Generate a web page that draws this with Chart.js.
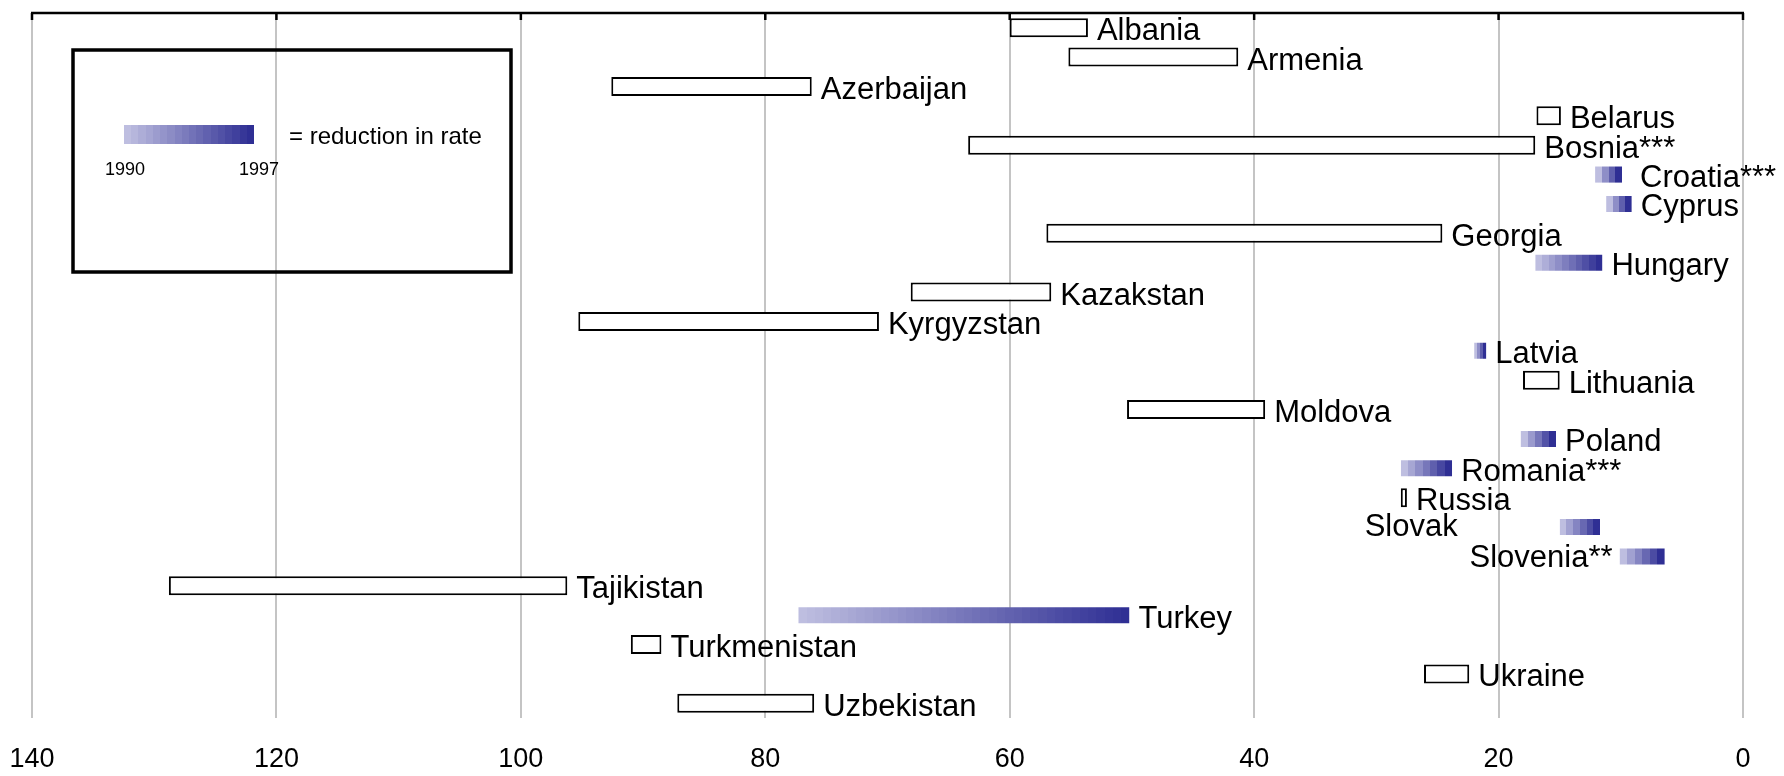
<!DOCTYPE html>
<html>
<head>
<meta charset="utf-8">
<script src="https://cdn.jsdelivr.net/npm/chart.js@4/dist/chart.umd.min.js"></script>
<style>
  html, body { margin: 0; padding: 0; background: #ffffff; }
  #wrap { width: 1784px; height: 776px; }
</style>
</head>
<body>
<div id="wrap"><canvas id="c" width="1784" height="776"></canvas></div>
<script>
// ---- data ----
const countries = ['Albania','Armenia','Azerbaijan','Belarus','Bosnia***','Croatia***','Cyprus','Georgia','Hungary','Kazakstan','Kyrgyzstan','Latvia','Lithuania','Moldova','Poland','Romania***','Russia','Slovak','Slovenia**','Tajikistan','Turkey','Turkmenistan','Ukraine','Uzbekistan'];
const rate1990 = [53.6, 41.3, 76.2, 14.9, 17.0, 12.1, 11.2, 24.6, 17.0, 56.6, 70.7, 22.0, 15.0, 39.1, 18.2, 28.0, 27.5, 15.0, 10.1, 96.2, 77.3, 88.5, 22.4, 76.0];
const rate1997 = [60.0, 55.2, 92.6, 16.9, 63.4, 9.9, 9.1, 57.0, 11.5, 68.1, 95.3, 21.0, 18.0, 50.4, 15.3, 23.8, 28.0, 11.7, 6.4, 128.8, 50.2, 91.0, 26.1, 87.2];
const axisTicks = [140, 120, 100, 80, 60, 40, 20, 0];
const legendText = '= reduction in rate';
const legendYears = ['1990', '1997'];

// ---- styles ----
const FONT = "'Liberation Sans', Arial, sans-serif";
const LIGHT = [190, 190, 224];
const DARK = [47, 47, 148];
const labelStyle = {
  'Slovak': { align: 'right', gap: 102, dy: 0 },
  'Slovenia**': { align: 'right', gap: 7, dy: 2 },
  'Croatia***': { gap: 18 }
};

function mix(t) {
  const c = LIGHT.map((l, k) => Math.round(l + (DARK[k] - l) * t));
  return 'rgb(' + c.join(',') + ')';
}

function bandGradient(c, x0, x1, n) {
  const g = c.createLinearGradient(x0, 0, x1, 0);
  for (let k = 0; k < n; k++) {
    const col = mix(k / (n - 1));
    g.addColorStop(k / n, col);
    g.addColorStop((k + 1) / n - 0.0001, col);
  }
  g.addColorStop(1, mix(1));
  return g;
}

function barFill(ctx) {
  const i = ctx.dataIndex;
  const a = rate1990[i], b = rate1997[i];
  if (b >= a) return '#ffffff';
  const chart = ctx.chart;
  if (!chart.chartArea) return mix(0.5);
  const xs = chart.scales.x;
  const x0 = xs.getPixelForValue(a), x1 = xs.getPixelForValue(b);
  const w = Math.abs(x1 - x0);
  const n = Math.max(4, Math.min(40, Math.round(w / 7)));
  return bandGradient(chart.ctx, x0, x1, n);
}

const legendBox = {
  id: 'legendBox',
  beforeDatasetsDraw(chart) {
    const c = chart.ctx;
    c.save();
    c.strokeStyle = '#000';
    c.lineWidth = 3.5;
    c.strokeRect(73, 50, 438, 222);
    const gx0 = 124, gx1 = 254;
    c.fillStyle = bandGradient(c, gx0, gx1, 18);
    c.fillRect(gx0, 125, gx1 - gx0, 19);
    c.fillStyle = '#000';
    c.font = '24px ' + FONT;
    c.textBaseline = 'middle';
    c.textAlign = 'left';
    c.fillText(legendText, 289, 137);
    c.font = '18px ' + FONT;
    c.textAlign = 'center';
    c.fillText(legendYears[0], 125, 170);
    c.fillText(legendYears[1], 259, 170);
    c.restore();
  }
};

const barLabels = {
  id: 'barLabels',
  afterDatasetsDraw(chart) {
    const c = chart.ctx;
    const xs = chart.scales.x;
    const meta = chart.getDatasetMeta(0);
    c.save();
    c.fillStyle = '#000';
    c.font = '31px ' + FONT;
    c.textBaseline = 'middle';
    meta.data.forEach((el, i) => {
      const name = countries[i];
      const st = labelStyle[name] || {};
      const lo = Math.min(rate1990[i], rate1997[i]);
      const hi = Math.max(rate1990[i], rate1997[i]);
      const dy = st.dy !== undefined ? st.dy : 4;
      if (st.align === 'right') {
        c.textAlign = 'right';
        c.fillText(name, xs.getPixelForValue(hi) - st.gap, el.y + dy);
      } else {
        c.textAlign = 'left';
        const gap = st.gap !== undefined ? st.gap : 9;
        c.fillText(name, xs.getPixelForValue(lo) + gap, el.y + dy);
      }
    });
    c.restore();
  }
};

const topAxis = {
  id: 'topAxis',
  afterDraw(chart) {
    const c = chart.ctx;
    const a = chart.chartArea;
    const xs = chart.scales.x;
    c.save();
    c.strokeStyle = '#000';
    c.lineWidth = 2.5;
    c.beginPath();
    c.moveTo(a.left - 1, a.top);
    c.lineTo(a.right + 1, a.top);
    axisTicks.forEach(v => {
      const x = xs.getPixelForValue(v);
      c.moveTo(x, a.top);
      c.lineTo(x, a.top + 7);
    });
    c.stroke();
    c.restore();
  }
};

new Chart(document.getElementById('c'), {
  type: 'bar',
  data: {
    labels: countries,
    datasets: [{
      data: countries.map((_, i) => [rate1990[i], rate1997[i]]),
      backgroundColor: barFill,
      borderColor: ctx => (rate1997[ctx.dataIndex] >= rate1990[ctx.dataIndex]) ? '#000000' : 'rgba(0,0,0,0)',
      borderWidth: ctx => (rate1997[ctx.dataIndex] >= rate1990[ctx.dataIndex]) ? 2 : {top: 1.5, bottom: 1.5, left: 0, right: 0},
      borderSkipped: false,
      barPercentage: 0.65,
      categoryPercentage: 1.0
    }]
  },
  options: {
    indexAxis: 'y',
    responsive: false,
    animation: false,
    events: [],
    layout: { padding: { left: 32, right: 41, top: 13, bottom: 0 } },
    plugins: { legend: { display: false }, tooltip: { enabled: false } },
    scales: {
      x: {
        type: 'linear',
        reverse: true,
        min: 0,
        max: 140,
        afterBuildTicks: s => { s.ticks = axisTicks.map(v => ({ value: v })); },
        afterFit: s => { s.height = 58; s.paddingLeft = 0; s.paddingRight = 0; },
        ticks: { color: '#000', font: { family: FONT, size: 27 }, padding: 25, maxRotation: 0 },
        grid: { color: '#c4c4c4', lineWidth: 2, drawTicks: false },
        border: { display: false }
      },
      y: {
        display: false,
        offset: true
      }
    }
  },
  plugins: [legendBox, barLabels, topAxis]
});
</script>
</body>
</html>
